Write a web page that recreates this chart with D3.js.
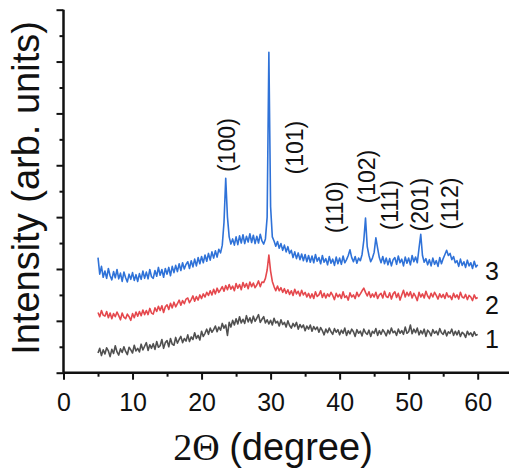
<!DOCTYPE html>
<html><head><meta charset="utf-8">
<script src="https://cdn.jsdelivr.net/npm/d3@7"></script>
<style>body{margin:0;background:#fff}svg{display:block}text{font-family:"Liberation Sans",Arial,sans-serif;fill:#111}</style>
</head><body><svg id="c" width="509" height="469"></svg>
<script>
// 2θ grid: first angle and step (degrees)
const angleStart = 5, angleStep = 0.25;
const xTicks = [0,10,20,30,40,50,60];
const seriesNames = ["1","2","3"];
// intensities (arb. units ×100), 5.00° … 60.00° every 0.25°
const sample1 = [
38,47,33,44, 36,48,42,31, 45,37,52,40, 34,46,39,50, 41,35,49,44,
38,53,42,47, 40,55,44,51, 58,43,54,47, 56,45,60,49, 52,64,47,58,
62,50,66,55, 53,68,57,64, 70,58,66,61, 73,60,69,64, 77,66,72,63,
80,70,76,84, 74,86,78,83, 90,79,88,82, 95,86,92,72, 97,88,101,92,
104,94,108,96, 103,95,110,98, 106,96,109,99, 105,112,97,103, 108,96,102,94,
101,92,105,96, 99,90,102,93, 97,88,100,91, 86,95,89,97, 84,93,87,92,
81,90,84,92, 80,89,83,88, 78,87,81,73, 84,77,86,79, 74,85,78,83,
73,82,76,86, 72,81,75,84, 79,70,83,76, 80,71,84,77, 74,82,70,80,
76,85,72,81, 74,83,78,71, 82,75,86,77, 80,72,84,76, 81,74,88,76,
79,92,75,84, 77,86,73,81, 75,84,70,82, 78,71,83,76, 80,73,85,77,
74,82,71,79, 76,84,72,80, 73,81,70,78, 75,68,80,73, 77,70,79,72,
74];
const sample2 = [
116,108,120,111, 109,118,106,115, 104,114,108,117, 110,102,115,107, 104,113,108,101,
114,106,117,109, 118,110,121,112, 120,112,124,115, 113,125,118,128, 120,129,116,127,
131,122,134,125, 136,127,133,140, 130,139,133,142, 144,135,141,148, 138,147,140,150,
143,152,146,155, 149,158,150,161, 152,163,155,160, 166,157,168,160, 170,161,167,158,
172,163,170,160, 174,165,172,162, 175,166,173,164, 169,177,166,175, 174,182,198,227,
196,176,166,158, 167,158,164,155, 162,153,160,151, 158,149,161,152, 157,148,159,150,
155,146,153,144, 152,143,156,147, 150,158,145,153, 144,152,147,155, 149,141,153,146,
151,143,156,145, 148,140,154,146, 150,143,155,147, 152,158,163,155, 148,156,145,152,
146,155,143,150, 153,144,157,147, 145,154,142,152, 156,145,153,140, 150,159,146,155,
148,156,144,153, 147,139,155,146, 152,144,157,148, 143,153,146,155, 149,142,152,145,
151,143,154,146, 148,141,153,145, 150,142,155,146, 144,151,141,149, 146,139,150,143,
145];
const sample3 = [
222,190,205,184, 196,182,201,187, 179,195,183,199, 181,192,176,194, 183,175,190,180,
193,178,189,176, 191,180,196,182, 194,181,199,185, 182,197,186,203, 188,199,184,201,
190,203,187,205, 193,207,195,210, 197,212,200,209, 214,201,216,204, 219,206,222,210,
224,212,227,215, 230,217,233,221, 235,223,238,231, 246,290,375,300, 262,248,258,246,
262,247,264,250, 266,249,263,252, 268,251,265,249, 263,250,267,254, 248,258,300,618,
320,262,254,244, 253,240,249,236, 246,233,243,230, 236,222,233,220, 231,218,229,216,
228,214,226,213, 225,212,228,215, 222,210,226,213, 220,208,224,211, 219,207,223,210,
221,209,225,212, 218,226,237,222, 214,224,211,221, 216,228,255,298, 243,226,214,221,
232,260,240,222, 212,224,210,221, 208,220,206,218, 222,209,225,212, 219,206,223,211,
221,208,226,214, 223,212,240,267, 226,213,220,208, 218,206,221,209, 216,205,222,210,
220,228,236,226, 230,218,224,212, 216,205,219,207, 214,203,217,206, 212,201,215,204,
208];
const peakNames  = ["(100)","(101)","(110)","(102)","(111)","(201)","(112)"];
const peakAngles = [23.64, 33.5, 39.33, 43.92, 47.3, 51.64, 55.99];
const peakLevels = [439, 434, 319, 378, 323, 324, 326];
const seriesLabelLevels = [64, 131, 195]; // where the 1/2/3 tags sit (arb. units ×100)

const svg = d3.select("#c");
const x = d3.scaleLinear().domain([0,60]).range([63.5,477.7]);
const y = d3.scaleLinear().domain([0,700]).range([372.7,9.7]);
const colors = ["#505050","#e5484d","#2f72d8"];
const data = [sample1, sample2, sample3];

const line = d3.line().x((d,i)=>x(angleStart+i*angleStep)).y(d=>y(d));
data.forEach((s,k)=>{
  svg.append("path").attr("d", line(s)).attr("fill","none")
    .attr("stroke", colors[k]).attr("stroke-width",1.6).attr("stroke-linejoin","round");
});

// axes
const gx = svg.append("g").attr("transform",`translate(0,${y(0)})`)
  .call(d3.axisBottom(x).tickValues(d3.range(5,60,10)).tickSize(4).tickFormat(""));
const gx2 = svg.append("g").attr("transform",`translate(0,${y(0)})`)
  .call(d3.axisBottom(x).tickValues(xTicks).tickSize(7).tickPadding(14).tickFormat(d3.format("d")));
[gx,gx2].forEach(g=>{g.select(".domain").remove(); g.selectAll("line").attr("stroke","#111").attr("stroke-width",2);});
gx2.selectAll("text").attr("font-size",25).attr("font-family","Liberation Sans, Arial, sans-serif").attr("fill","#111");
svg.append("line").attr("x1",x(0)).attr("x2",509).attr("y1",y(0)).attr("y2",y(0)).attr("stroke","#111").attr("stroke-width",2.5);

const gy = svg.append("g").attr("transform",`translate(${x(0)},0)`)
  .call(d3.axisLeft(y).tickValues(d3.range(50,700,100)).tickSize(4).tickFormat(""));
const gy2 = svg.append("g").attr("transform",`translate(${x(0)},0)`)
  .call(d3.axisLeft(y).tickValues(d3.range(0,701,100)).tickSize(7).tickFormat(""));
[gy,gy2].forEach(g=>{g.select(".domain").remove(); g.selectAll("line").attr("stroke","#111").attr("stroke-width",2);});
svg.append("line").attr("x1",x(0)).attr("x2",x(0)).attr("y1",y(700)).attr("y2",y(0)).attr("stroke","#111").attr("stroke-width",2.5);

// peak labels
peakNames.forEach((t,i)=>{
  svg.append("text").attr("transform",`translate(${x(peakAngles[i])},${y(peakLevels[i])}) rotate(-90)`)
    .attr("text-anchor","middle").attr("dy","0.35em").attr("font-size",23).text(t);
});
// series labels
seriesNames.forEach((t,i)=>{
  svg.append("text").attr("x",485).attr("y",y(seriesLabelLevels[i])).attr("dy","0.35em")
    .attr("font-size",25).text(t);
});

// axis titles
svg.append("text").attr("transform",`translate(39,188) rotate(-90)`).attr("text-anchor","middle")
  .attr("font-size",38).text("Intensity (arb. units)");
const tt = svg.append("text").attr("x",273).attr("y",460).attr("text-anchor","middle").attr("font-size",38);
tt.append("tspan").attr("font-family","Liberation Serif, Times New Roman, serif").text("2Θ ");
tt.append("tspan").text("(degree)");
</script></body></html>
